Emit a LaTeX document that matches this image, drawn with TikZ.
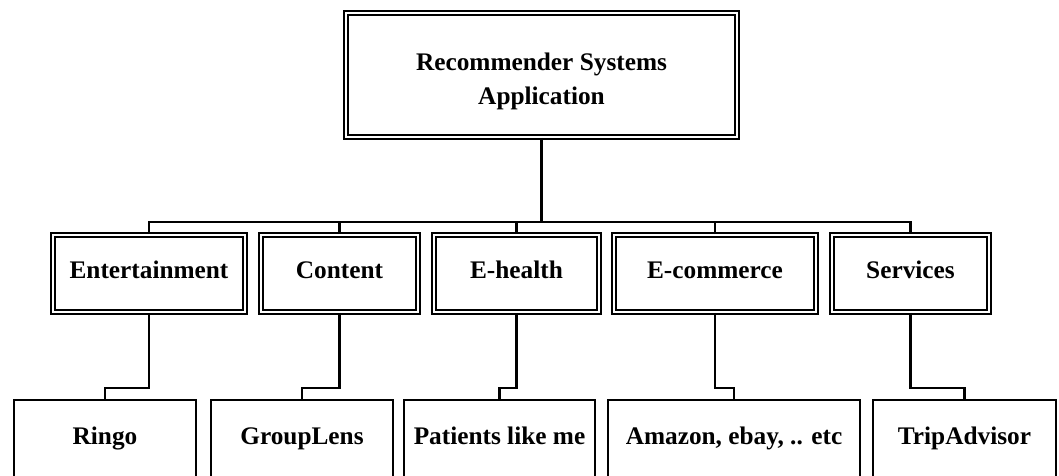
\documentclass[tikz,border=0pt]{standalone}
\usepackage{fontspec}
\setmainfont{Liberation Serif}

\begin{document}
\begin{tikzpicture}[
  font=\bfseries\fontsize{18}{24}\selectfont,
  dbox/.style={draw, double, line width=1.1pt, double distance=1.8pt,
    inner sep=0pt, align=center, text height=0.93em, text depth=0.22em},
  sbox/.style={draw, line width=1.5pt, inner sep=0pt, minimum height=2.05cm,
    text height=0.75em, text depth=0.22em},
  link/.style={line width=1.6pt}]
  \clip (0,0) rectangle (26.475,-11.9);

  % root
  \node[dbox, minimum width=9.775cm, minimum height=3.1cm, text height=44pt] (root)
    at (13.5375,-1.875) {Recommender Systems\\Application};

  % application areas
  \node[dbox, minimum width=4.8cm, minimum height=1.925cm] (ent) at (3.725,-6.8375) {Entertainment};
  \node[dbox, minimum width=3.925cm, minimum height=1.925cm] (cont) at (8.4875,-6.8375) {Content};
  \node[dbox, minimum width=4.125cm, minimum height=1.925cm] (ehealth) at (12.9125,-6.8375) {E-health};
  \node[dbox, minimum width=5.05cm, minimum height=1.925cm] (ecom) at (17.875,-6.8375) {E-commerce};
  \node[dbox, minimum width=3.925cm, minimum height=1.925cm] (serv) at (22.7625,-6.8375) {Services};

  % examples
  \node[sbox, minimum width=4.55cm] (ringo) at (2.625,-11.025) {Ringo};
  \node[sbox, minimum width=4.55cm] (grouplens) at (7.55,-11.025) {GroupLens};
  \node[sbox, minimum width=4.775cm] (patients) at (12.4875,-11.025) {Patients like me};
  \node[sbox, minimum width=6.3cm] (amazon) at (18.35,-11.025) {Amazon, ebay, .. etc};
  \node[sbox, minimum width=4.575cm] (trip) at (24.1125,-11.025) {TripAdvisor};

  \coordinate (bus) at (0,-5.55);
  \coordinate (jog) at (0,-9.7);

  \draw[link] (root.south) -- (root.south |- bus);
  \draw[link] (ent.north) -- (ent.north |- bus) -- (serv.north |- bus) -- (serv.north);
  \foreach \n in {cont,ehealth,ecom}
    \draw[link] (\n.north) -- (\n.north |- bus);

  \foreach \a/\b in {ent/ringo,cont/grouplens,ehealth/patients,ecom/amazon,serv/trip}
    \draw[link] (\a.south) -- (\a.south |- jog) -| (\b.north);
\end{tikzpicture}
\end{document}
